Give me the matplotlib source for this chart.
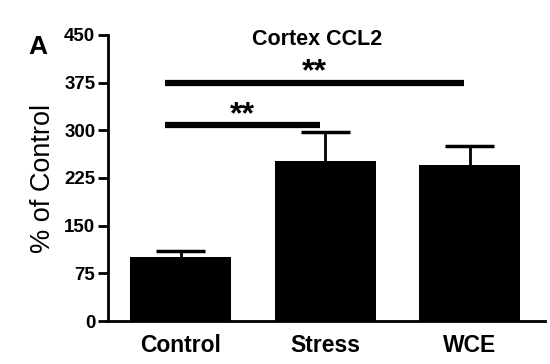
import numpy as np
import matplotlib
matplotlib.use("Agg")
import matplotlib.pyplot as plt

# ---- data ----
groups = ["Control", "Stress", "WCE"]
means = [100, 252, 246]
sem_upper = [10, 46, 30]
yticks = [0, 75, 150, 225, 300, 375, 450]

# significance brackets: (from group, to group, height, label)
brackets = [(0, 1, 308, "**"), (0, 2, 375, "**")]

plt.rcParams["font.family"] = ["Liberation Sans", "DejaVu Sans"]

fig = plt.figure(figsize=(5.5, 3.64), dpi=100)
ax = fig.add_axes([0.196, 0.118, 0.795, 0.786])

x = np.arange(len(groups))
tops = np.array(means) + np.array(sem_upper)
# upper-only error bars, drawn behind the bars
ax.vlines(x, means, tops, color="black", lw=2, zorder=1)
ax.hlines(tops, x - 0.17, x + 0.17, color="black", lw=2.5, zorder=1)
ax.bar(x, means, width=0.70, color="black", zorder=2)

for g0, g1, h, lab in brackets:
    x0, x1 = g0 - 0.11, g1 - 0.04
    ax.plot([x0, x1], [h, h], color="black", lw=4.5,
            solid_capstyle="butt", clip_on=False)
    ax.text((x0 + x1) / 2, h + 3, lab, ha="center", va="baseline",
            fontsize=23, fontweight="bold")

ax.set_xlim(-0.505, 2.52)
ax.set_ylim(0, 450)
ax.set_yticks(yticks)
ax.set_xticks(x)
ax.set_xticklabels(groups, fontsize=16.5, fontweight="bold")
ax.set_yticklabels([str(t) for t in yticks], fontsize=13.5, fontweight="bold")
ax.tick_params(axis="y", length=7, width=2, pad=2)
ax.tick_params(axis="x", length=0, pad=9)

for s in ["top", "right"]:
    ax.spines[s].set_visible(False)
for s in ["left", "bottom"]:
    ax.spines[s].set_linewidth(2)

ax.set_ylabel("% of Control", fontsize=19.5, labelpad=6)
fig.text(0.576, 0.876, "Cortex CCL2", fontsize=15.5, fontweight="bold",
         ha="center", va="baseline")
fig.text(0.068, 0.871, "A", fontsize=19, fontweight="bold", ha="center",
         va="center")

fig.savefig("out.png", dpi=100)
